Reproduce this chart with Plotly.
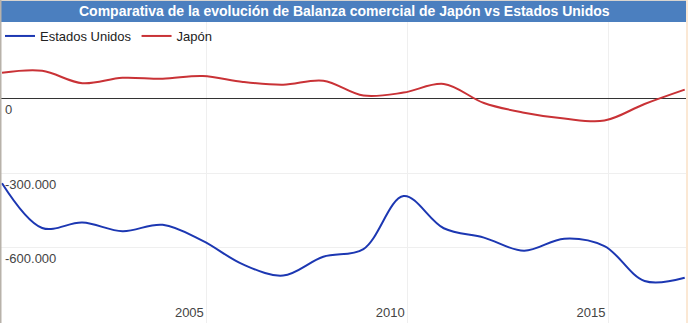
import plotly.graph_objects as go

# ---- data ----
years = list(range(2000, 2018))
estados_unidos = [-341000, -522000, -500000, -535000, -509000, -574000, -669000, -714000,
                  -638000, -607000, -393000, -523000, -561000, -614000, -565000, -595000,
                  -736000, -723000]
japon = [105000, 113000, 63000, 85000, 81000, 92000, 68000, 57000,
         73000, 13000, 25000, 60000, -17000, -56000, -80000, -88000,
         -21000, 37000]
x_tick_labels = ["2005", "2010", "2015"]
y_tick_values = [-900000, -600000, -300000, 0]
y_tick_labels = ["", "-600.000", "-300.000", "0"]

W, H = 688, 323
FONT = "Liberation Sans, Arial, sans-serif"
BLUE = "#1c37b2"
RED = "#c93236"
BAR = "#4b7fbf"

fig = go.Figure()
fig.add_trace(go.Scatter(x=years, y=estados_unidos, name="Estados Unidos", mode="lines",
                         line=dict(color=BLUE, width=2, shape="spline", smoothing=1.0)))
fig.add_trace(go.Scatter(x=years, y=japon, name="Japón", mode="lines",
                         line=dict(color=RED, width=2, shape="spline", smoothing=1.0)))

px_per_year = 40.16
x0 = years[0] - 2 / px_per_year
x1 = x0 + W / px_per_year
# y scale: 0 at ~98.8 px, 74.25 px per 300.000
per_px = 300000 / 74.25
y_top = 98.8 * per_px
y_bot = -(H - 98.8) * per_px

fig.update_layout(
    width=W, height=H,
    margin=dict(l=0, r=0, t=0, b=0, autoexpand=False),
    paper_bgcolor="white", plot_bgcolor="white",
    font=dict(family=FONT, size=13, color="#222222"),
    showlegend=True,
    legend=dict(orientation="h", x=0, xanchor="left", y=1 - 21 / H, yanchor="top",
                bgcolor="rgba(0,0,0,0)", font=dict(size=13, color="#222222"),
                traceorder="normal", itemwidth=30),
    xaxis=dict(range=[x0, x1], showgrid=True, gridcolor="#efefef", gridwidth=1,
               tickvals=[2005.1, 2010.1, 2015.1], ticktext=x_tick_labels,
               ticklabelposition="inside left", ticklabelshift=-3, ticklabelstandoff=-3,
               ticks="", showline=False, zeroline=False,
               tickfont=dict(size=13, color="#444444")),
    yaxis=dict(range=[y_bot, y_top], showgrid=True, gridcolor="#efefef", gridwidth=1,
               tickvals=y_tick_values, ticktext=y_tick_labels,
               ticklabelposition="inside bottom", ticklabelshift=2, ticklabelstandoff=2,
               ticks="", showline=False,
               zeroline=True, zerolinecolor="#333333", zerolinewidth=1,
               tickfont=dict(size=13, color="#444444")),
    shapes=[
        dict(type="rect", xref="paper", yref="paper", x0=0, x1=1, y0=1 - 22 / H, y1=1,
             fillcolor=BAR, line=dict(width=0), layer="above"),
        dict(type="rect", xref="paper", yref="paper", x0=0, x1=1, y0=1 - 1 / H, y1=1,
             fillcolor="#d8d4cf", line=dict(width=0), layer="above"),
        dict(type="rect", xref="paper", yref="paper", x0=0, x1=1.5 / W, y0=0, y1=1,
             fillcolor="#b8b2aa", line=dict(width=0), layer="above"),
        dict(type="rect", xref="paper", yref="paper", x0=1 - 2 / W, x1=1, y0=0, y1=1,
             fillcolor="#fbe8d4", line=dict(width=0), layer="above"),
    ],
    annotations=[
        dict(text="<b>Comparativa de la evolución de Balanza comercial de Japón vs Estados Unidos</b>",
             xref="paper", yref="paper", x=0.5, xanchor="center", y=1 - 11.5 / H, yanchor="middle",
             showarrow=False, font=dict(family=FONT, size=14, color="white")),
    ],
)

fig.write_html("out.html")
